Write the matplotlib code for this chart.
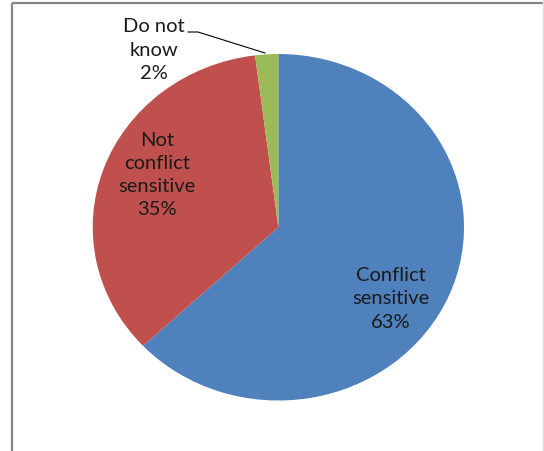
import matplotlib
matplotlib.use("Agg")
import matplotlib.pyplot as plt
from matplotlib.patches import Rectangle
from matplotlib.lines import Line2D

W, H = 544, 451

# slice data, clockwise from 12 o'clock
labels = ["Conflict\nsensitive", "Not\nconflict\nsensitive", "Do not\nknow"]
values = [63, 35, 2]
colors = ["#4F81BD", "#C0504D", "#9BBB59"]

# label centres in pixel coords (x, y from top)
label_pos = [(391, 299), (157, 175), (154, 50)]

plt.rcParams["font.family"] = ["Lato", "DejaVu Sans"]

fig = plt.figure(figsize=(W / 100, H / 100), dpi=100)
fig.patch.set_facecolor("white")

# pie box (slightly wider than tall)
left, right, top, bottom = 92.7, 464.0, 54.0, 400.5
ax = fig.add_axes([left / W, (H - bottom) / H, (right - left) / W, (bottom - top) / H])
ax.pie(values, colors=colors, startangle=90, counterclock=False,
       radius=1, wedgeprops=dict(linewidth=0))
ax.set_aspect("auto")
ax.set_xlim(-1, 1)
ax.set_ylim(-1, 1)
ax.axis("off")

# overlay axes in pixel coordinates for frame, labels and leader line
ov = fig.add_axes([0, 0, 1, 1], facecolor="none")
ov.set_xlim(0, W)
ov.set_ylim(H, 0)
ov.axis("off")

ov.add_patch(Rectangle((11.5, 2.5), 600, 600, fill=False, edgecolor="#868686", linewidth=1.6))
ov.add_line(Line2D([543, 543], [0, H], color="#E0E0E0", linewidth=1.0))

for lab, v, (x, y) in zip(labels, values, label_pos):
    ov.text(x, y, f"{lab}\n{v}%", ha="center", va="center", fontsize=14.5,
            color="#1a1a1a", linespacing=1.45, multialignment="center")

# leader line for the small slice
ov.add_line(Line2D([188, 198, 265], [32, 32, 53], color="black", linewidth=0.8))

fig.savefig("out.png", dpi=100)
